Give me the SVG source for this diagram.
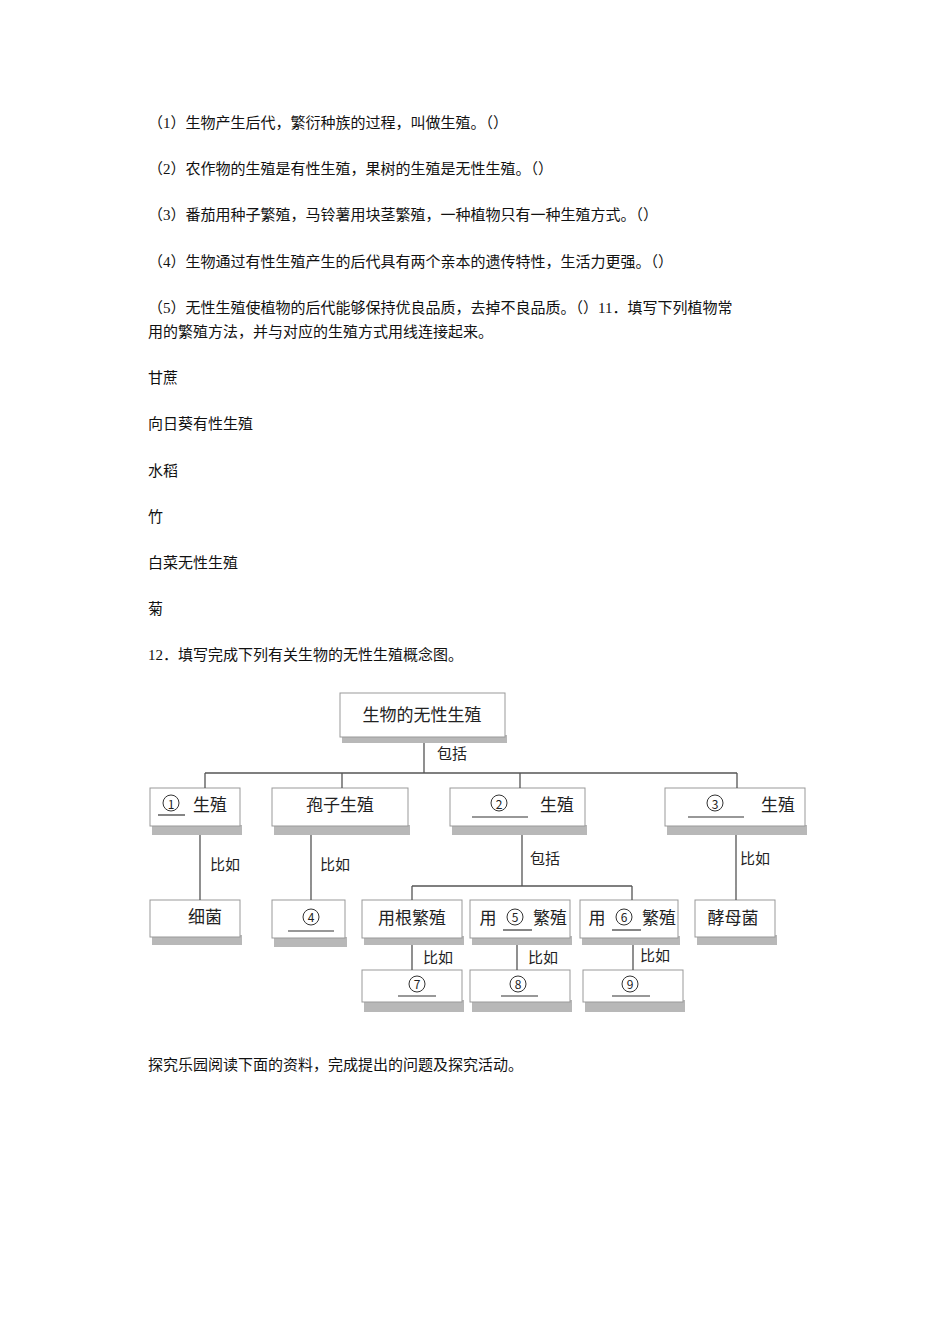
<svg xmlns="http://www.w3.org/2000/svg" width="950" height="1318" viewBox="0 0 950 1318">
<style>
.t{font-family:"Liberation Serif","Noto Sans CJK SC",serif;font-size:15px;fill:#111}
.b{fill:#fff;stroke:#999;stroke-width:1}
.s{fill:#b8b8b8}
.d{font-family:"Noto Sans CJK SC",sans-serif;font-size:17px;fill:#222;text-anchor:middle}
.k{font-family:"Noto Sans CJK SC",sans-serif;font-size:15px;fill:#222;text-anchor:middle}
.l{stroke:#555;stroke-width:1.3;fill:none}
.u{stroke:#333;stroke-width:1.2}
.c{fill:none;stroke:#333;stroke-width:1}
</style>
<rect width="950" height="1318" fill="#fff"/>
<text class="t" x="148" y="128">（1）生物产生后代，繁衍种族的过程，叫做生殖。（）</text>
<text class="t" x="148" y="174">（2）农作物的生殖是有性生殖，果树的生殖是无性生殖。（）</text>
<text class="t" x="148" y="220">（3）番茄用种子繁殖，马铃薯用块茎繁殖，一种植物只有一种生殖方式。（）</text>
<text class="t" x="148" y="267">（4）生物通过有性生殖产生的后代具有两个亲本的遗传特性，生活力更强。（）</text>
<text class="t" x="148" y="313">（5）无性生殖使植物的后代能够保持优良品质，去掉不良品质。（）11．填写下列植物常</text>
<text class="t" x="148" y="337">用的繁殖方法，并与对应的生殖方式用线连接起来。</text>
<text class="t" x="148" y="383">甘蔗</text>
<text class="t" x="148" y="429">向日葵有性生殖</text>
<text class="t" x="148" y="476">水稻</text>
<text class="t" x="148" y="522">竹</text>
<text class="t" x="148" y="568">白菜无性生殖</text>
<text class="t" x="148" y="614">菊</text>
<text class="t" x="148" y="660">12．填写完成下列有关生物的无性生殖概念图。</text>
<text class="t" x="148" y="1070">探究乐园阅读下面的资料，完成提出的问题及探究活动。</text>
<g id="n0"><rect class="s" x="342" y="735" width="165" height="8"/><rect class="b" x="340" y="693" width="165" height="44"/><text class="d" x="422" y="721">生物的无性生殖</text></g>
<g id="n1"><rect class="s" x="152" y="825" width="90" height="10"/><rect class="b" x="150" y="788" width="90" height="38"/><circle class="c" cx="171" cy="803" r="8"/><text class="d" x="171" y="809" style="font-size:12px">1</text><line class="u" x1="158" y1="815" x2="185" y2="815"/><text class="d" x="210" y="811">生殖</text></g>
<g id="n2"><rect class="s" x="274" y="825" width="136" height="10"/><rect class="b" x="272" y="788" width="136" height="38"/><text class="d" x="340" y="811">孢子生殖</text></g>
<g id="n3"><rect class="s" x="452" y="825" width="135" height="10"/><rect class="b" x="450" y="788" width="135" height="38"/><circle class="c" cx="499" cy="803" r="8"/><text class="d" x="499" y="809" style="font-size:12px">2</text><line class="u" x1="472" y1="817" x2="528" y2="817"/><text class="d" x="557" y="811">生殖</text></g>
<g id="n4"><rect class="s" x="667" y="825" width="140" height="10"/><rect class="b" x="665" y="788" width="140" height="38"/><circle class="c" cx="715" cy="803" r="8"/><text class="d" x="715" y="809" style="font-size:12px">3</text><line class="u" x1="688" y1="817" x2="744" y2="817"/><text class="d" x="778" y="811">生殖</text></g>
<g id="n5"><rect class="s" x="152" y="935" width="90" height="10"/><rect class="b" x="150" y="900" width="90" height="37"/><text class="d" x="205" y="923">细菌</text></g>
<g id="n6"><rect class="s" x="274" y="937" width="73" height="10"/><rect class="b" x="272" y="900" width="73" height="38"/><circle class="c" cx="311" cy="917" r="8"/><text class="d" x="311" y="922" style="font-size:12px">4</text><line class="u" x1="288" y1="931" x2="334" y2="931"/></g>
<g id="n7"><rect class="s" x="364" y="936" width="100" height="9"/><rect class="b" x="362" y="900" width="100" height="38"/><text class="d" x="412" y="924">用根繁殖</text></g>
<g id="n8"><rect class="s" x="472" y="936" width="100" height="9"/><rect class="b" x="470" y="900" width="100" height="38"/><text class="d" x="488" y="924">用</text><circle class="c" cx="515" cy="917" r="8"/><text class="d" x="515" y="922" style="font-size:12px">5</text><line class="u" x1="503" y1="930" x2="532" y2="930"/><text class="d" x="550" y="924">繁殖</text></g>
<g id="n9"><rect class="s" x="582" y="936" width="98" height="9"/><rect class="b" x="580" y="900" width="98" height="38"/><text class="d" x="597" y="924">用</text><circle class="c" cx="624" cy="917" r="8"/><text class="d" x="624" y="922" style="font-size:12px">6</text><line class="u" x1="612" y1="930" x2="641" y2="930"/><text class="d" x="659" y="924">繁殖</text></g>
<g id="n10"><rect class="s" x="697" y="935" width="80" height="10"/><rect class="b" x="695" y="900" width="80" height="37"/><text class="d" x="733" y="924">酵母菌</text></g>
<g id="n11"><rect class="s" x="364" y="1000" width="100" height="12"/><rect class="b" x="362" y="970" width="100" height="32"/><circle class="c" cx="417" cy="984" r="8"/><text class="d" x="417" y="989" style="font-size:12px">7</text><line class="u" x1="398" y1="996" x2="436" y2="996"/></g>
<g id="n12"><rect class="s" x="472" y="1000" width="100" height="12"/><rect class="b" x="470" y="970" width="100" height="32"/><circle class="c" cx="518" cy="984" r="8"/><text class="d" x="518" y="989" style="font-size:12px">8</text><line class="u" x1="501" y1="996" x2="538" y2="996"/></g>
<g id="n13"><rect class="s" x="585" y="1000" width="100" height="12"/><rect class="b" x="583" y="970" width="100" height="32"/><circle class="c" cx="630" cy="984" r="8"/><text class="d" x="630" y="989" style="font-size:12px">9</text><line class="u" x1="612" y1="996" x2="650" y2="996"/></g>
<g id="connectors">
<path class="l" d="M424 743V773M205 773H737M205 773V788M342 773V788M520 773V788M737 773V788"/>
<path class="l" d="M200 835V900M311 835V900M522 835V886M412 886H632M412 886V900M632 886V900M736 835V900"/>
<path class="l" d="M412 945V970M517 945V970M633 945V970"/>
<text class="k" x="452" y="759">包括</text>
<text class="k" x="225" y="870">比如</text>
<text class="k" x="335" y="870">比如</text>
<text class="k" x="545" y="864">包括</text>
<text class="k" x="755" y="864">比如</text>
<text class="k" x="438" y="963">比如</text>
<text class="k" x="543" y="963">比如</text>
<text class="k" x="655" y="961">比如</text>
</g>
</svg>
